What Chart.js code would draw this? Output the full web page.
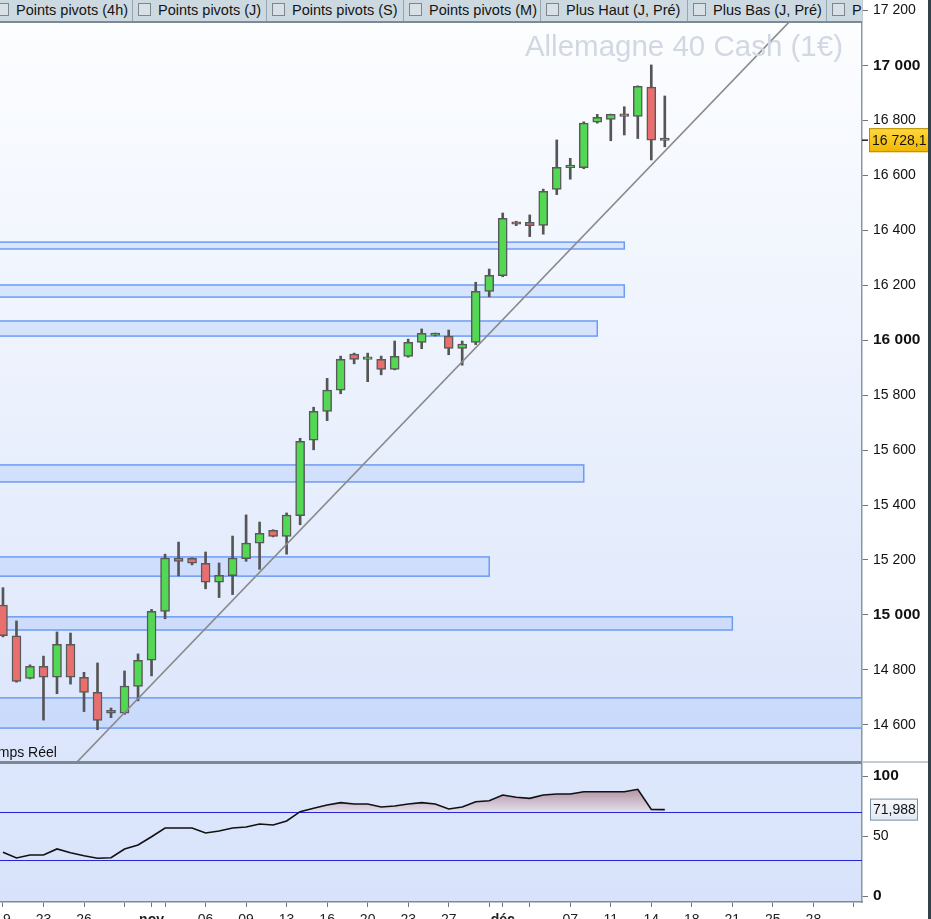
<!DOCTYPE html>
<html>
<head>
<meta charset="utf-8">
<script src="https://cdn.jsdelivr.net/npm/chart.js@4.4.0/dist/chart.umd.min.js"></script>
<style>
  html, body { margin: 0; padding: 0; background: #fff; overflow: hidden; }
  body { width: 931px; height: 919px; position: relative; font-family: "Liberation Sans", Arial, sans-serif; }
  canvas { position: absolute; left: 0; }
  #price { top: 0; }
  #osc { top: 762px; }
  #toolbar { position: absolute; left: 0; top: 0; width: 862px; height: 21px; background: #cdd9e1;
             border-bottom: 2px solid #7b8a95; overflow: hidden; }
  .item { position: absolute; top: 0; height: 21px; border-left: 1px solid #97a5af; width: 400px;
          font-size: 14.5px; line-height: 21px; color: #141414; white-space: nowrap; }
  .item .box { position: absolute; left: 5px; top: 3px; width: 11px; height: 11px;
               border: 1px solid #7d868c; background: #d9e1e6; }
  .item .txt { position: absolute; left: 25px; top: 0; }
  #title { position: absolute; right: 88px; top: 31px; font-size: 29.5px; line-height: 29.5px;
           color: #d2d8e3; white-space: nowrap; }
  #live { position: absolute; left: -17px; top: 745px; font-size: 14px; line-height: 14px; color: #111; white-space: nowrap; }
  #sep { position: absolute; left: 0; top: 761px; width: 862px; height: 3px; background: #7b8994; }
  #sep2 { position: absolute; left: 862px; top: 761px; width: 69px; height: 2px; background: #c3ccd3; }
  #edge { position: absolute; left: 928px; top: 0; width: 3px; height: 919px; background: #33414b; }
</style>
</head>
<body>
<canvas id="price" width="931" height="762"></canvas>
<canvas id="osc" width="931" height="157"></canvas>
<div id="toolbar"></div>
<div id="title">Allemagne 40 Cash (1€)</div>
<div id="live">Temps Réel</div>
<div id="sep"></div>
<div id="sep2"></div>
<div id="edge"></div>
<script>
// daily candles, Sunday sessions included
const days = ['19/10','20/10','22/10','23/10','24/10','25/10','26/10','27/10','29/10','30/10',
  '31/10','01/11','02/11','03/11','05/11','06/11','07/11','08/11','09/11','10/11',
  '12/11','13/11','14/11','15/11','16/11','17/11','19/11','20/11','21/11','22/11',
  '23/11','24/11','26/11','27/11','28/11','29/11','30/11','01/12','03/12','04/12',
  '05/12','06/12','07/12','08/12','10/12','11/12','12/12','13/12','14/12','15/12'];

const open  = [15036,14924,14769,14813,14773,14893,14773,14718,14653,14642,
  14740,14835,15013,15207,15206,15188,15119,15143,15205,15261,
  15308,15286,15361,15636,15741,15818,15949,15930,15930,15894,
  15941,15992,16017,16015,15970,15992,16178,16235,16431,16429,
  16418,16549,16628,16628,16794,16804,16822,16815,16921,16727];
const close = [14924,14758,14813,14773,14893,14773,14718,14616,14642,14741,
  14835,15013,15207,15195,15188,15119,15144,15207,15261,15297,
  15286,15363,15632,15741,15818,15930,15930,15938,15894,15941,
  15992,16025,16019,15970,15986,16178,16236,16444,16422,16417,
  16542,16629,16630,16790,16811,16822,16815,16924,16728,16728.1];
const high  = [15099,14978,14818,14850,14938,14934,14791,14825,14661,14796,
  14858,15020,15221,15265,15208,15229,15189,15287,15364,15338,
  15310,15371,15643,15756,15861,15942,15953,15953,15942,15997,
  16004,16041,16026,16037,15997,16211,16259,16463,16433,16456,
  16550,16729,16662,16795,16822,16823,16850,16926,17002,16889];
const low   = [14920,14755,14767,14617,14713,14748,14648,14582,14626,14638,
  14687,14778,14986,15142,15182,15095,15063,15074,15195,15166,
  15284,15221,15328,15601,15707,15805,15914,15849,15874,15892,
  15938,15969,16015,15947,15909,15984,16158,16231,16417,16377,
  16386,16530,16586,16624,16790,16726,16747,16734,16656,16704];

const rsi = [36.5,31.7,34.2,34.2,39.2,36.1,33.6,31.4,31.9,39.2,
  42.5,49.4,56.7,56.7,56.7,52.5,54.2,56.7,57.5,60.0,
  59.2,62.5,70.3,73.1,75.8,77.8,76.7,76.7,74.2,75.0,
  76.7,77.8,76.7,72.5,74.2,78.6,79.4,84.2,82.3,81.4,
  84.2,85.0,85.0,86.9,86.9,86.9,86.9,88.9,72.2,71.988];
const rsiLevels = [70, 30];

// support / resistance boxes: price range and the candle index where they stop
const zoneLow  = [16332,16157,16015,15484,15141,14945,14588];
const zoneHigh = [16357,16201,16070,15546,15211,14993,14698];
const zoneEnd  = [46, 46, 44, 43, 36, 54, 64];

// trendline through the lows (candle index, price)
const trendFrom = [5.2, 14450];
const trendTo   = [60, 17250];

const priceTicks = [14600,14800,15000,15200,15400,15600,15800,16000,16200,16400,16600,16800,17000,17200];
const rsiTicks = [0, 50, 100];
const xTickIdx    = [0,3,6,9,11,12,15,18,21,24,27,30,33,36,37,39,42,45,48,51,54,57,60,63];
const xTickLabels = ['19','23','26','','nov','','06','09','13','16','20','23','27','','déc','','07','11','14','18','21','25','28',''];
const monthLabels = ['nov', 'déc'];

const toolbarItems = ['Points pivots (4h)','Points pivots (J)','Points pivots (S)','Points pivots (M)',
  'Plus Haut (J, Pré)','Plus Bas (J, Pré)','Plus Haut (S, Pré)'];
const toolbarLeft = [-10, 132, 266, 403, 540, 687, 826];

const X_MIN = -0.22, X_MAX = 63.6;
const FONT = '"Liberation Sans", Arial, sans-serif';

// toolbar
const bar = document.getElementById('toolbar');
toolbarItems.forEach((t, k) => {
  const d = document.createElement('div');
  d.className = 'item';
  d.style.left = toolbarLeft[k] + 'px';
  d.innerHTML = '<span class="box"></span><span class="txt">' + t + '</span>';
  bar.appendChild(d);
});

function spaced(n) {
  return String(n).replace(/\B(?=(\d{3})+(?!\d))/g, ' ');
}
function fmtPrice(v) {
  const [i, d] = v.toFixed(1).split('.');
  return spaced(i) + ',' + d;
}

const panelBg = {
  id: 'panelBg',
  beforeDraw(chart, args, opts) {
    const { ctx, chartArea: a } = chart;
    const g = ctx.createLinearGradient(0, a.top, 0, a.bottom);
    g.addColorStop(0, opts.top);
    g.addColorStop(1, opts.bottom);
    ctx.save();
    ctx.fillStyle = g;
    ctx.fillRect(a.left, a.top, a.right - a.left, a.bottom - a.top);
    ctx.restore();
  }
};

const zones = {
  id: 'zones',
  beforeDatasetsDraw(chart) {
    const { ctx, chartArea: a, scales: { x, y } } = chart;
    ctx.save();
    ctx.beginPath();
    ctx.rect(a.left, a.top, a.right - a.left, a.bottom - a.top);
    ctx.clip();
    zoneLow.forEach((lo, k) => {
      const x0 = a.left - 4;
      const x1 = Math.min(x.getPixelForValue(zoneEnd[k]), a.right + 4);
      const y0 = y.getPixelForValue(zoneHigh[k]);
      const y1 = y.getPixelForValue(lo);
      ctx.fillStyle = 'rgba(168,196,252,0.34)';
      ctx.fillRect(x0, y0, x1 - x0, y1 - y0);
      ctx.strokeStyle = '#6d9cf3';
      ctx.lineWidth = 1.5;
      ctx.strokeRect(x0, y0, x1 - x0, y1 - y0);
    });
    ctx.restore();
  }
};

const lastPrice = {
  id: 'lastPrice',
  afterDraw(chart) {
    const { ctx, chartArea: a, scales: { y } } = chart;
    const v = close[close.length - 1];
    const py = y.getPixelForValue(v);
    ctx.save();
    ctx.strokeStyle = '#222';
    ctx.lineWidth = 1.5;
    ctx.beginPath(); ctx.moveTo(a.right, py); ctx.lineTo(a.right + 6, py); ctx.stroke();
    const g = ctx.createLinearGradient(0, py - 12, 0, py + 12);
    g.addColorStop(0, '#ffd93e');
    g.addColorStop(1, '#f1b500');
    ctx.fillStyle = g;
    ctx.fillRect(a.right + 7, py - 12, 70, 24);
    ctx.strokeStyle = '#b58e00';
    ctx.lineWidth = 1;
    ctx.strokeRect(a.right + 7.5, py - 11.5, 70, 23);
    ctx.fillStyle = '#111';
    ctx.font = '14px ' + FONT;
    ctx.textBaseline = 'middle';
    ctx.fillText(fmtPrice(v), a.right + 10, py + 1);
    ctx.restore();
  }
};

const levels = {
  id: 'levels',
  beforeDatasetsDraw(chart) {
    const { ctx, chartArea: a, scales: { y } } = chart;
    ctx.save();
    ctx.strokeStyle = '#2424d8';
    ctx.lineWidth = 1;
    rsiLevels.forEach(v => {
      const py = Math.round(y.getPixelForValue(v)) + 0.5;
      ctx.beginPath(); ctx.moveTo(a.left, py); ctx.lineTo(a.right, py); ctx.stroke();
    });
    ctx.restore();
  }
};

const lastRsi = {
  id: 'lastRsi',
  afterDraw(chart) {
    const { ctx, chartArea: a, scales: { y } } = chart;
    const v = rsi[rsi.length - 1];
    const py = y.getPixelForValue(v);
    ctx.save();
    const g = ctx.createLinearGradient(0, py - 11, 0, py + 11);
    g.addColorStop(0, '#f7f9fc');
    g.addColorStop(1, '#e2e9f2');
    ctx.fillStyle = g;
    ctx.fillRect(a.right + 8, py - 11, 48, 22);
    ctx.strokeStyle = '#7d91a6';
    ctx.lineWidth = 1;
    ctx.strokeRect(a.right + 8.5, py - 10.5, 47, 21);
    ctx.fillStyle = '#111';
    ctx.font = '14px ' + FONT;
    ctx.textBaseline = 'middle';
    ctx.fillText(v.toFixed(3).replace('.', ','), a.right + 11, py + 1);
    ctx.restore();
  }
};

function fixY(s) {
  s.width = 69;
  s.paddingTop = 0;
  s.paddingBottom = 0;
}

const idx = open.map((_, i) => i);

new Chart(document.getElementById('price'), {
  type: 'bar',
  data: {
    labels: days,
    datasets: [
      {
        type: 'line',
        data: [{ x: trendFrom[0], y: trendFrom[1] }, { x: trendTo[0], y: trendTo[1] }],
        borderColor: '#8a8a8a',
        borderWidth: 1.6,
        pointRadius: 0,
        order: 0
      },
      {
        data: idx.map(i => ({ x: i, y: [open[i], close[i]] })),
        backgroundColor: idx.map(i => close[i] >= open[i] ? '#52d852' : '#e96f6f'),
        borderColor: '#595959',
        borderWidth: 1.5,
        borderSkipped: false,
        barThickness: 9,
        minBarLength: 2.5,
        grouped: false,
        order: 1
      },
      {
        data: idx.map(i => ({ x: i, y: [low[i], high[i]] })),
        backgroundColor: '#555',
        barThickness: 2,
        grouped: false,
        order: 2
      }
    ]
  },
  options: {
    responsive: false,
    animation: false,
    devicePixelRatio: 1,
    layout: { padding: 0 },
    plugins: {
      legend: { display: false },
      tooltip: { enabled: false },
      panelBg: { top: '#fdfeff', bottom: '#dbe5fb' }
    },
    scales: {
      x: { type: 'linear', min: X_MIN, max: X_MAX, offset: false, display: false },
      y: {
        position: 'right',
        min: 14464.5,
        max: 17238.4,
        afterBuildTicks(s) { s.ticks = priceTicks.map(v => ({ value: v })); },
        afterFit: fixY,
        grid: { drawOnChartArea: false, tickLength: 6, color: '#6b7780', lineWidth: 1 },
        border: { color: '#8797a3', width: 1.5 },
        ticks: {
          callback: v => spaced(v),
          color: '#111',
          padding: 5,
          crossAlign: 'near',
          autoSkip: false,
          font: c => (c.tick && c.tick.value % 1000 === 0)
            ? { family: FONT, size: 15.5, weight: 'bold' }
            : { family: FONT, size: 14 }
        }
      }
    }
  },
  plugins: [panelBg, zones, lastPrice]
});

new Chart(document.getElementById('osc'), {
  type: 'line',
  data: {
    labels: days,
    datasets: [{
      data: idx.map(i => ({ x: i, y: rsi[i] })),
      borderColor: '#111',
      borderWidth: 1.6,
      pointRadius: 0,
      tension: 0,
      fill: { target: { value: rsiLevels[0] }, below: 'rgba(0,0,0,0)' },
      backgroundColor: c => {
        const { chart } = c;
        const a = chart.chartArea;
        if (!a) return 'rgba(0,0,0,0)';
        const y = chart.scales.y;
        const g = chart.ctx.createLinearGradient(0, y.getPixelForValue(90), 0, y.getPixelForValue(rsiLevels[0]));
        g.addColorStop(0, '#b08f9c');
        g.addColorStop(1, '#e4e0f0');
        return g;
      }
    }]
  },
  options: {
    responsive: false,
    animation: false,
    devicePixelRatio: 1,
    layout: { padding: { top: 2 } },
    plugins: {
      legend: { display: false },
      tooltip: { enabled: false },
      panelBg: { top: '#dde7fc', bottom: '#d8e3fb' }
    },
    scales: {
      x: {
        type: 'linear', min: X_MIN, max: X_MAX, offset: false,
        afterBuildTicks(s) { s.ticks = xTickIdx.map(v => ({ value: v })); },
        afterFit(s) { s.height = 17; s.paddingLeft = 0; s.paddingRight = 0; },
        grid: { drawOnChartArea: false, tickLength: 5, color: '#6b7780' },
        border: { color: '#7b8a95', width: 1.5 },
        ticks: {
          autoSkip: false, maxRotation: 0, minRotation: 0, padding: 5, color: '#222',
          callback: (v, i) => xTickLabels[i],
          font: c => monthLabels.includes(xTickLabels[c.index])
            ? { family: FONT, size: 14, weight: 'bold' }
            : { family: FONT, size: 14 }
        }
      },
      y: {
        position: 'right',
        min: -5,
        max: 110,
        afterBuildTicks(s) { s.ticks = rsiTicks.map(v => ({ value: v })); },
        afterFit: fixY,
        grid: { drawOnChartArea: false, tickLength: 6, color: '#6b7780' },
        border: { color: '#8797a3', width: 1.5 },
        ticks: {
          color: '#111', padding: 5, crossAlign: 'near', autoSkip: false,
          font: c => (c.tick && c.tick.value !== 50)
            ? { family: FONT, size: 15.5, weight: 'bold' }
            : { family: FONT, size: 14 }
        }
      }
    }
  },
  plugins: [panelBg, levels, lastRsi]
});
</script>
</body>
</html>
